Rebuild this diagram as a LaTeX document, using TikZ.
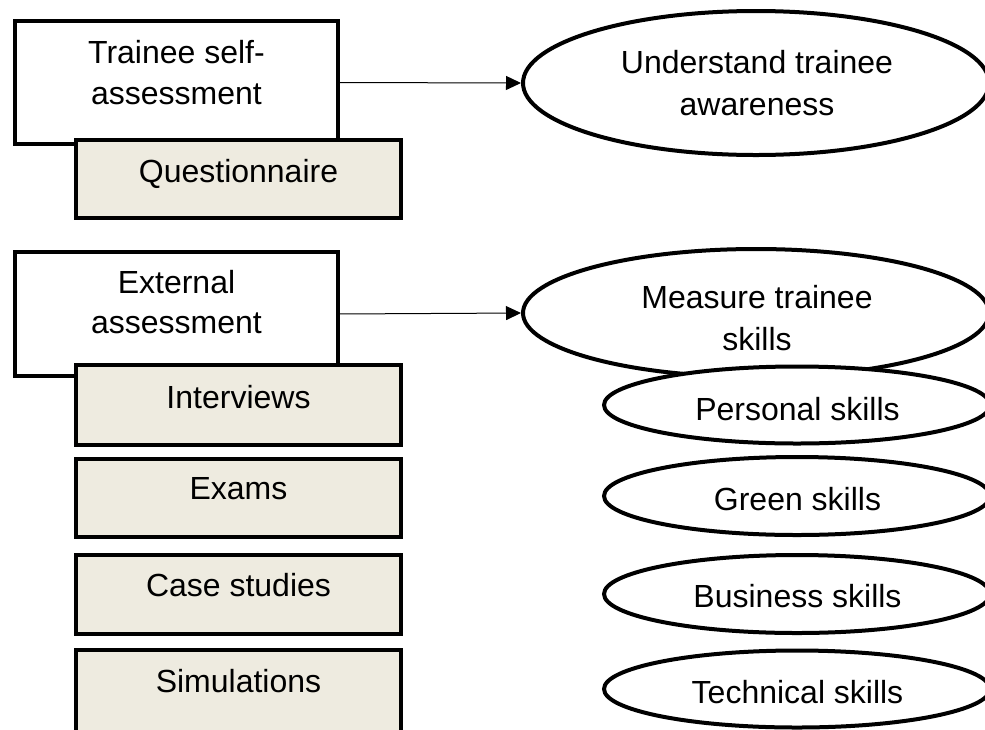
\documentclass[tikz,border=0pt]{standalone}
\usepackage{fontspec}
\setmainfont{Liberation Sans}
\usetikzlibrary{arrows.meta,shapes.geometric}
\definecolor{beige}{HTML}{EEEBE0}
\begin{document}
\begin{tikzpicture}[x=1pt,y=-1pt,
  every node/.style={font=\fontsize{32}{41}\selectfont},
  wbox/.style={draw,line width=4pt,fill=white,rectangle,inner sep=0pt,outer sep=0pt},
  gbox/.style={draw,line width=4pt,fill=beige,rectangle,inner sep=0pt,outer sep=0pt,minimum width=325pt},
  oval/.style={draw,line width=4pt,fill=white,ellipse,inner sep=0pt},
  txt/.style={anchor=base,inner sep=0pt},
  arr/.style={line width=1pt,-{Triangle[length=15pt,width=14pt]}}]
\useasboundingbox (0,0) rectangle (985,729);
\clip (0,0) rectangle (985,729);
% left column
\node[wbox,minimum width=323pt,minimum height=123pt] (b1) at (176.5,82.5) {};
\node[gbox,minimum height=78pt] (q) at (238.5,179) {};
\node[wbox,minimum width=323pt,minimum height=124pt] (b2) at (176.5,314) {};
\node[gbox,minimum height=80pt] (iv) at (238.5,405) {};
\node[gbox,minimum height=78pt] (ex) at (238.5,498) {};
\node[gbox,minimum height=79pt] (cs) at (238.5,594.5) {};
\node[gbox,minimum height=86pt] (sm) at (238.5,693) {};
% right column
\node[oval,minimum width=466pt,minimum height=144pt] (e1) at (756,83) {};
\node[oval,minimum width=466pt,minimum height=128pt] (e2) at (756,313) {};
\node[oval,minimum width=386pt,minimum height=77pt] (ps) at (797,405) {};
\node[oval,minimum width=386pt,minimum height=78pt] (gs) at (797,496) {};
\node[oval,minimum width=386pt,minimum height=78pt] (bs) at (797,594) {};
\node[oval,minimum width=386pt,minimum height=77pt] (ts) at (797,689) {};
% texts
\node[txt] (t1a) at (176.5,63) {Trainee self-};
\node[txt] (t1b) at (176.5,104) {assessment};
\node[txt] (tq) at (238.5,182) {Questionnaire};
\node[txt] (t2a) at (176.5,293) {External};
\node[txt] (t2b) at (176.5,333) {assessment};
\node[txt] (tiv) at (238.5,408) {Interviews};
\node[txt] (tex) at (238.5,499) {Exams};
\node[txt] (tcs) at (238.5,596) {Case studies};
\node[txt] (tsm) at (238.5,692) {Simulations};
\node[txt] (te1a) at (757,73) {Understand trainee};
\node[txt] (te1b) at (757,115) {awareness};
\node[txt] (te2a) at (757,308) {Measure trainee};
\node[txt] (te2b) at (757,350) {skills};
\node[txt] (tps) at (797.5,420) {Personal skills};
\node[txt] (tgs) at (797.5,510) {Green skills};
\node[txt] (tbs) at (797.5,607) {Business skills};
\node[txt] (tts) at (797.5,703) {Technical skills};
% arrows
\draw[arr] (b1.east) -- (e1.west);
\draw[arr] (b2.east) -- (e2.west);
\end{tikzpicture}
\end{document}
